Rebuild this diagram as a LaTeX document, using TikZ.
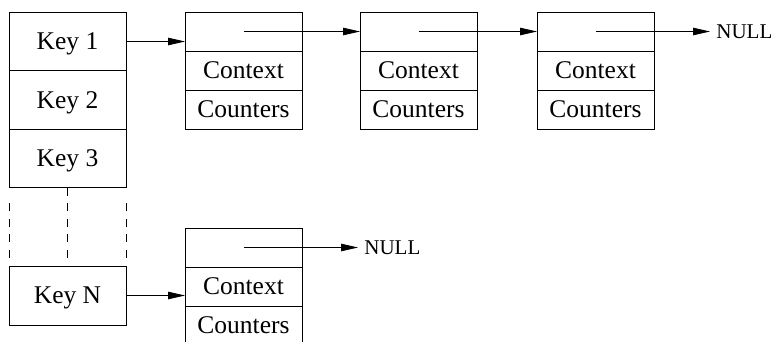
\documentclass[tikz,border=0pt]{standalone}
\usepackage{fontspec}
\setmainfont{Liberation Serif}
\usetikzlibrary{arrows.meta,positioning}
\newcommand{\drawRecord}[2]{
    \node[cell] (#1p) at (#2) {};
    \node[cell,below=0pt of #1p] (#1c) {Context};
    \node[cell,below=0pt of #1c] (#1n) {Counters};
    \draw (#1p.north west) rectangle (#1n.south east);
    \draw (#1c.north west) -- (#1c.north east);
    \draw (#1n.north west) -- (#1n.north east);
}

\begin{document}
\begin{tikzpicture}[x=1pt,y=-1pt,line width=0.8pt,>={Triangle[length=17pt,width=7.5pt]},
    cell/.style={outer sep=0pt,minimum width=117pt,minimum height=39pt,inner sep=0pt,
        text height=16.5pt,text depth=0pt,font=\fontsize{25.5}{30}\selectfont},
    keycell/.style={cell,minimum height=58.5pt},
    nulltext/.style={anchor=west,inner sep=0pt,inner xsep=6pt,font=\fontsize{21}{25}\selectfont},
    gapdash/.style={dash pattern=on 8pt off 7.5pt,shorten >=8pt}]

    \useasboundingbox (0,0) rectangle (772,341);
    \clip (0,0) rectangle (772,341);

    % --- Key table ---
    \node[keycell] (key1) at (67.5,41.5) {Key 1};
    \node[keycell,below=0pt of key1] (key2) {Key 2};
    \node[keycell,below=0pt of key2] (key3) {Key 3};
    \node[keycell,draw,minimum height=59pt] (keyN) at (67.5,295.5) {Key N};
    \draw (key1.north west) rectangle (key3.south east);
    \draw (key2.north west) -- (key2.north east);
    \draw (key3.north west) -- (key3.north east);

    % elided rows
    \draw[gapdash] (key3.south) -- (key3.south |- keyN.north);
    \draw[gapdash,shorten <=15.5pt] (key3.south west) -- (key3.south west |- keyN.north);
    \draw[gapdash,shorten <=15.5pt] (key3.south east) -- (key3.south east |- keyN.north);

    % --- Records ---
    \drawRecord{ra}{243.5,31.5}
    \drawRecord{rb}{418.5,31.5}
    \drawRecord{rc}{595.5,31.5}
    \drawRecord{rn}{243.5,247.5}

    \node[nulltext] (nullc) at (710,31.5) {NULL};
    \node[nulltext] (nulln) at (358,247.5) {NULL};

    % Pointers
    \draw[->] (key1.east) -- (key1.east -| rap.west);
    \draw[->] (rap.center) -- (rbp.west);
    \draw[->] (rbp.center) -- (rcp.west);
    \draw[->] (rcp.center) -- (nullc.west);
    \draw[->] (keyN.east) -- (keyN.east -| rnc.west);
    \draw[->] (rnp.center) -- (nulln.west);

\end{tikzpicture}
\end{document}
